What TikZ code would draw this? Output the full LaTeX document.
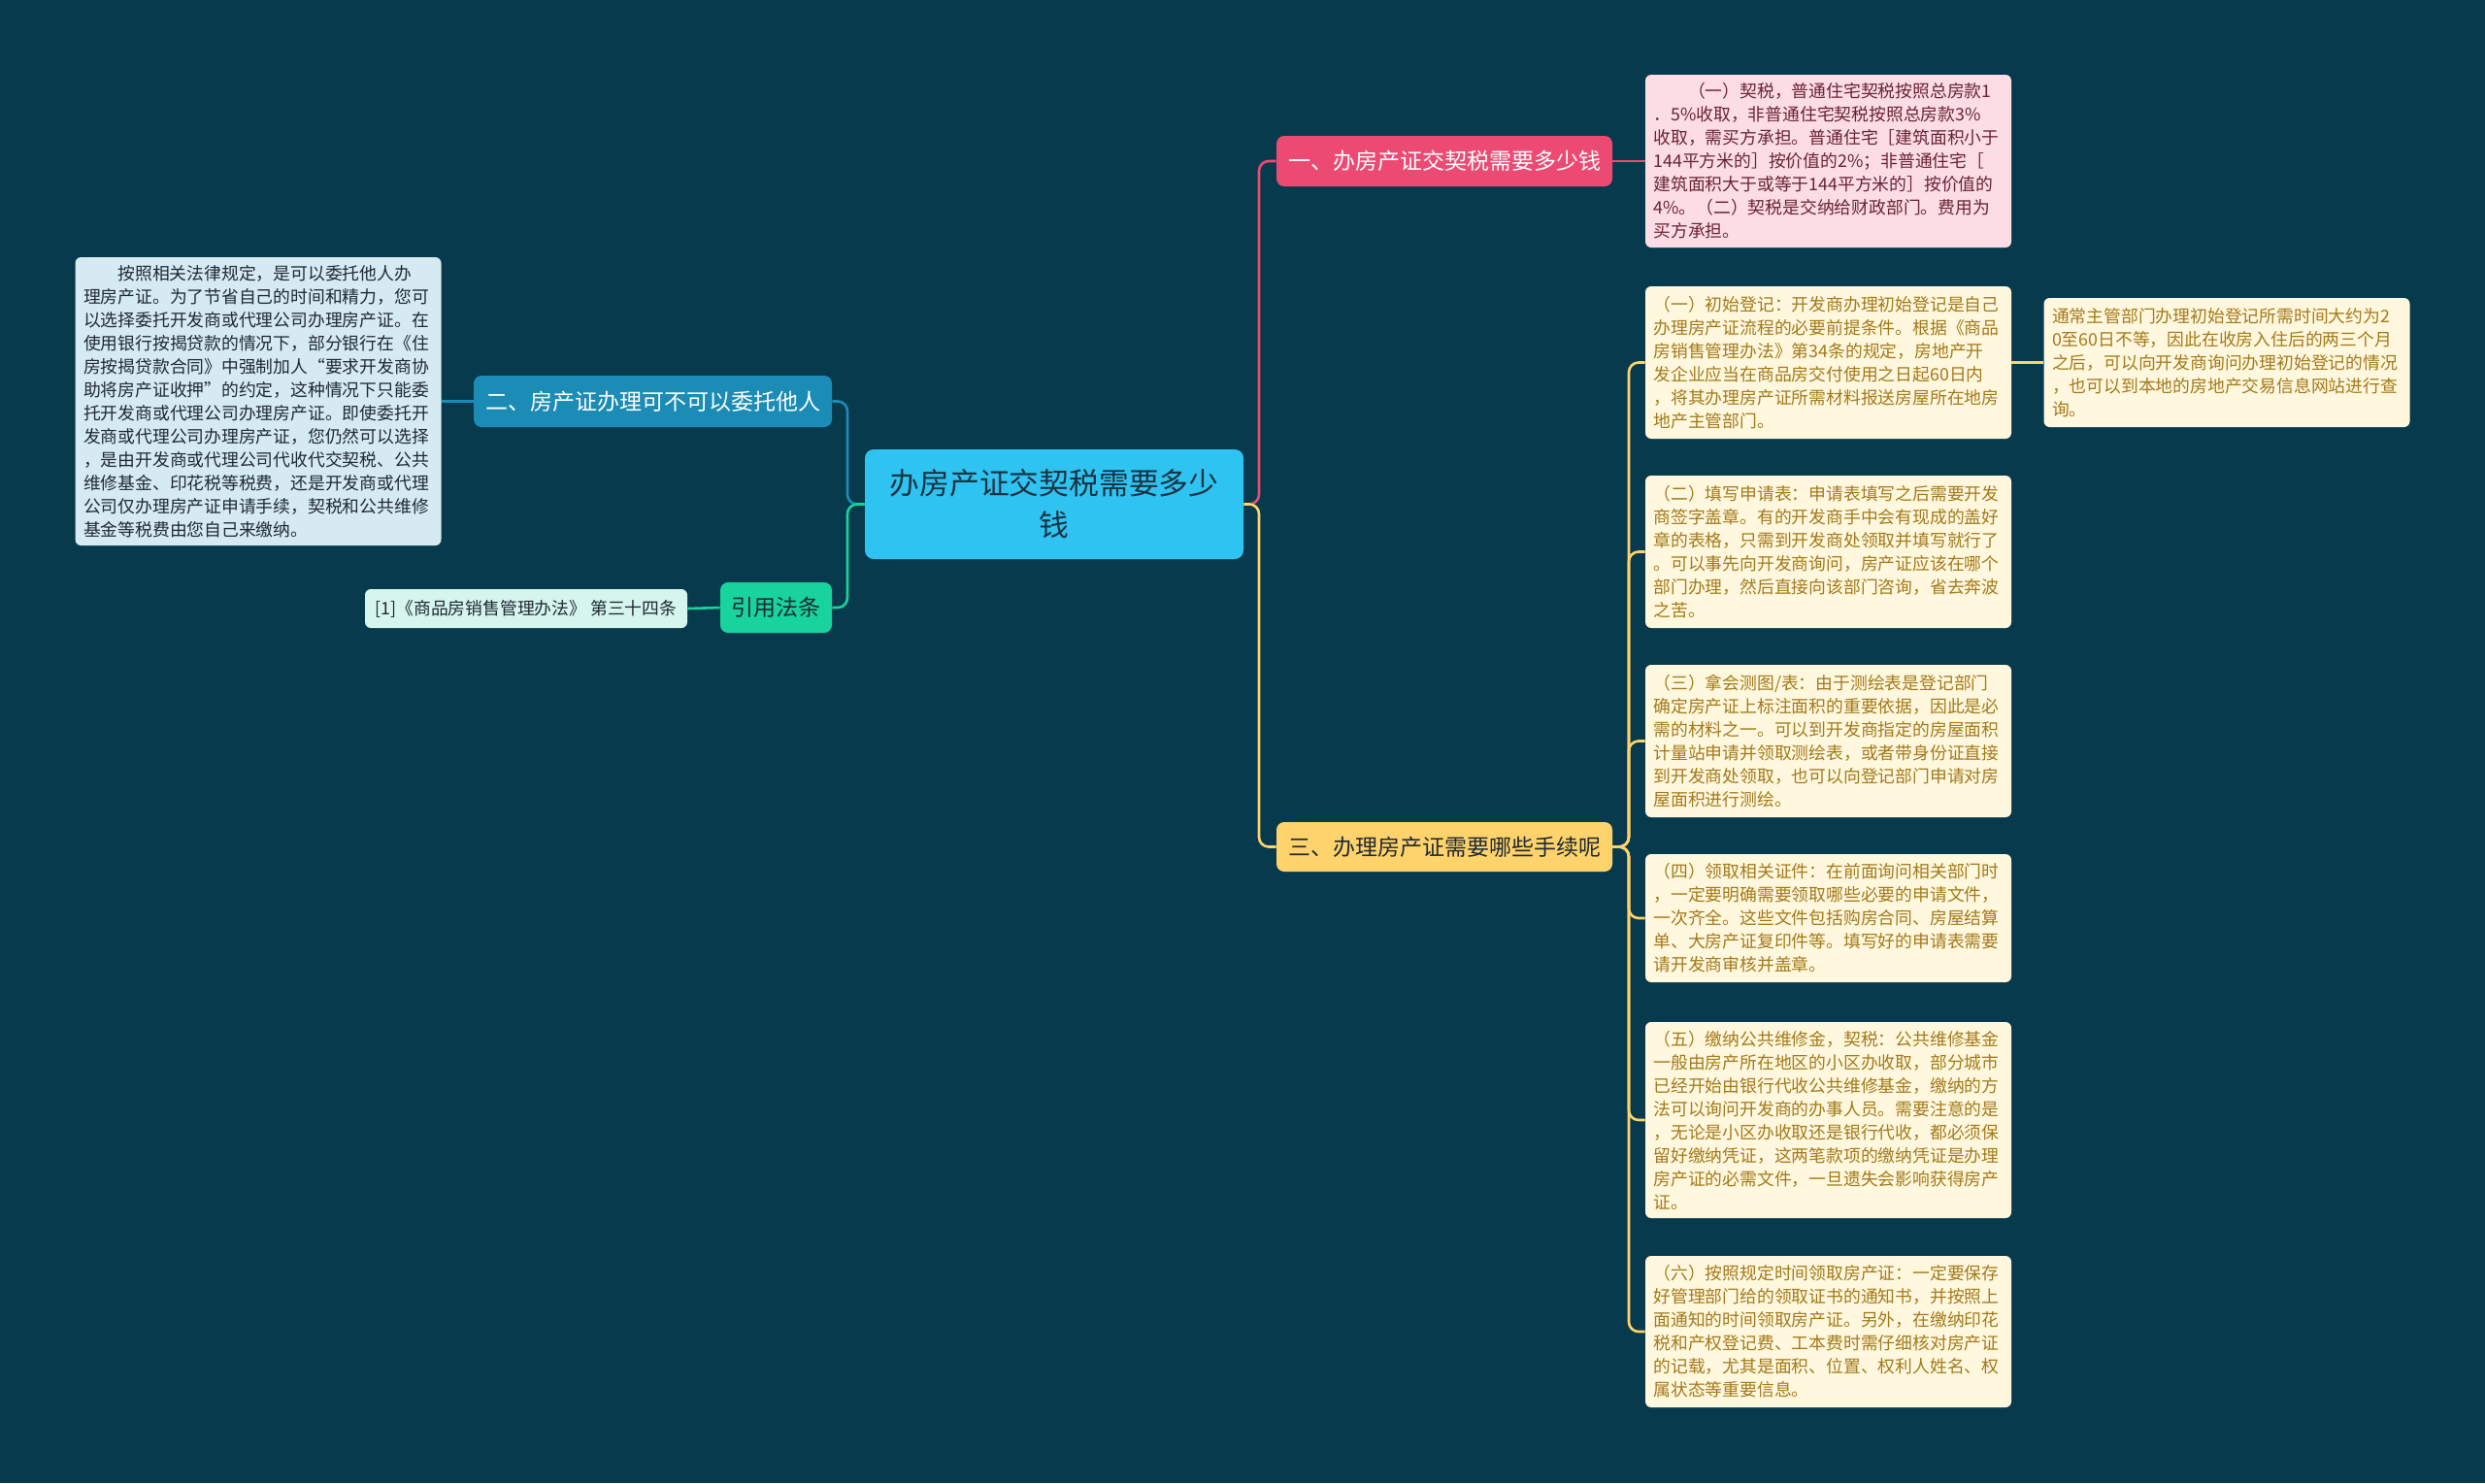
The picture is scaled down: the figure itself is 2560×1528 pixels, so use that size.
\documentclass[tikz,border=0pt]{standalone}
\usepackage{fontspec}
\setmainfont{Noto Sans CJK SC}
\definecolor{bgc}{RGB}{8,58,77}
\definecolor{cenc}{RGB}{46,195,240}
\definecolor{pinkc}{RGB}{236,74,114}
\definecolor{yelc}{RGB}{255,211,107}
\definecolor{bluec}{RGB}{26,140,181}
\definecolor{greenc}{RGB}{24,211,155}
\definecolor{pinkleaf}{RGB}{252,221,229}
\definecolor{yelleaf}{RGB}{255,247,222}
\definecolor{blueleaf}{RGB}{214,234,242}
\definecolor{greenleaf}{RGB}{214,245,236}
\definecolor{pinktxt}{RGB}{105,35,50}
\definecolor{yeltxt}{RGB}{163,122,26}
\definecolor{darktxt}{RGB}{30,42,52}
\definecolor{centxt}{RGB}{25,50,66}
\tikzset{
  cnode/.style={fill=cenc, text=centxt, rounded corners=4.5pt, inner sep=0pt, align=center,
    minimum width=195pt, minimum height=56.5pt, font=\fontsize{15.4pt}{21.5pt}\selectfont},
  bnode/.style={rounded corners=4pt, inner sep=0pt, align=center,
    font=\fontsize{11.5pt}{14pt}\selectfont},
  leafbox/.style={rounded corners=3pt, align=left, text width=180pt, inner xsep=4.25pt, inner ysep=0pt,
    font=\fontsize{8.9pt}{12pt}\selectfont},
  yleaf/.style={leafbox, fill=yelleaf, text=yeltxt},
  refbox/.style={rounded corners=3pt, inner sep=0pt, align=center, fill=greenleaf, text=darktxt,
    minimum width=166pt, minimum height=20pt, font=\fontsize{8.9pt}{12pt}\selectfont},
  ln/.style={line width=1.3pt, rounded corners=5pt},
  pinkln/.style={ln, draw=pinkc},
  yelln/.style={ln, draw=yelc},
  bluln/.style={ln, draw=bluec},
  grnln/.style={ln, draw=greenc},
}
\begin{document}
\begin{tikzpicture}[x=0.5pt,y=-0.5pt]
\fill[bgc] (0,0) rectangle (2560,1528);
\useasboundingbox (0,0) rectangle (2560,1528);

% central
\node[cnode] (c) at (1086,519.5) {办房产证交契税需要多少\\钱};

% branches
\node[bnode, fill=pinkc, text=white, minimum width=173pt, minimum height=26pt] (b1) at (1488,166) {一、办房产证交契税需要多少钱};
\node[bnode, fill=yelc, text=darktxt, minimum width=173pt, minimum height=25.5pt] (b3) at (1488,872.5) {三、办理房产证需要哪些手续呢};
\node[bnode, fill=bluec, text=white, minimum width=184.5pt, minimum height=26.5pt] (b2) at (672.5,413.5) {二、房产证办理可不可以委托他人};
\node[bnode, fill=greenc, text=darktxt, minimum width=57.5pt, minimum height=26pt] (g) at (799.5,626) {引用法条};

% reference leaf
\node[refbox] (r) at (542,627) {[1]《商品房销售管理办法》 第三十四条};

% left leaf
\node[leafbox, fill=blueleaf, text=darktxt, minimum height=148.5pt] (l) at (266,413.5) {\hspace*{2em}按照相关法律规定，是可以委托他人办\\
理房产证。为了节省自己的时间和精力，您可\\
以选择委托开发商或代理公司办理房产证。在\\
使用银行按揭贷款的情况下，部分银行在《住\\
房按揭贷款合同》中强制加人“要求开发商协\\
助将房产证收押”的约定，这种情况下只能委\\
托开发商或代理公司办理房产证。即使委托开\\
发商或代理公司办理房产证，您仍然可以选择\\
，是由开发商或代理公司代收代交契税、公共\\
维修基金、印花税等税费，还是开发商或代理\\
公司仅办理房产证申请手续，契税和公共维修\\
基金等税费由您自己来缴纳。};

% pink leaf
\node[leafbox, fill=pinkleaf, text=pinktxt, minimum height=89pt] (p) at (1883.5,166) {\hspace*{2em}（一）契税，普通住宅契税按照总房款1\\
．5\%收取，非普通住宅契税按照总房款3\%\\
收取，需买方承担。普通住宅［建筑面积小于\\
144平方米的］按价值的2\%；非普通住宅［\\
建筑面积大于或等于144平方米的］按价值的\\
4\%。（二）契税是交纳给财政部门。费用为\\
买方承担。};

% yellow leaves
\node[yleaf, minimum height=78.5pt] (y1) at (1883.5,373.5) {（一）初始登记：开发商办理初始登记是自己\\
办理房产证流程的必要前提条件。根据《商品\\
房销售管理办法》第34条的规定，房地产开\\
发企业应当在商品房交付使用之日起60日内\\
，将其办理房产证所需材料报送房屋所在地房\\
地产主管部门。};

\node[yleaf, minimum height=66.5pt] (fr) at (2294,373.5) {通常主管部门办理初始登记所需时间大约为2\\
0至60日不等，因此在收房入住后的两三个月\\
之后，可以向开发商询问办理初始登记的情况\\
，也可以到本地的房地产交易信息网站进行查\\
询。};

\node[yleaf, minimum height=78.5pt] (y2) at (1883.5,568.5) {（二）填写申请表：申请表填写之后需要开发\\
商签字盖章。有的开发商手中会有现成的盖好\\
章的表格，只需到开发商处领取并填写就行了\\
。可以事先向开发商询问，房产证应该在哪个\\
部门办理，然后直接向该部门咨询，省去奔波\\
之苦。};

\node[yleaf, minimum height=78.5pt] (y3) at (1883.5,763.5) {（三）拿会测图/表：由于测绘表是登记部门\\
确定房产证上标注面积的重要依据，因此是必\\
需的材料之一。可以到开发商指定的房屋面积\\
计量站申请并领取测绘表，或者带身份证直接\\
到开发商处领取，也可以向登记部门申请对房\\
屋面积进行测绘。};

\node[yleaf, minimum height=66pt] (y4) at (1883.5,946) {（四）领取相关证件：在前面询问相关部门时\\
，一定要明确需要领取哪些必要的申请文件，\\
一次齐全。这些文件包括购房合同、房屋结算\\
单、大房产证复印件等。填写好的申请表需要\\
请开发商审核并盖章。};

\node[yleaf, minimum height=101pt] (y5) at (1883.5,1154) {（五）缴纳公共维修金，契税：公共维修基金\\
一般由房产所在地区的小区办收取，部分城市\\
已经开始由银行代收公共维修基金，缴纳的方\\
法可以询问开发商的办事人员。需要注意的是\\
，无论是小区办收取还是银行代收，都必须保\\
留好缴纳凭证，这两笔款项的缴纳凭证是办理\\
房产证的必需文件，一旦遗失会影响获得房产\\
证。};

\node[yleaf, minimum height=78pt] (y6) at (1883.5,1372) {（六）按照规定时间领取房产证：一定要保存\\
好管理部门给的领取证书的通知书，并按照上\\
面通知的时间领取房产证。另外，在缴纳印花\\
税和产权登记费、工本费时需仔细核对房产证\\
的记载，尤其是面积、位置、权利人姓名、权\\
属状态等重要信息。};

% connectors
\coordinate (tr) at (1297,519.5);
\coordinate (ty) at (1678,872.5);
\coordinate (tl) at (873,519.5);

\draw[pinkln] (c.east) -- (tr) |- (b1.west);
\draw[yelln] (c.east) -- (tr) |- (b3.west);
\draw[pinkln] (b1.east) -- (p.west);
\foreach \n in {y1,y2,y3,y4,y5,y6} {\draw[yelln] (b3.east) -- (ty) |- (\n.west);}
\draw[yelln] (y1.east) -- (fr.west);
\draw[bluln] (c.west) -- (tl) |- (b2.east);
\draw[grnln] (c.west) -- (tl) |- (g.east);
\draw[bluln] (b2.west) -- (l.east);
\draw[grnln] (g.west) -- (r.east);
\end{tikzpicture}
\end{document}
